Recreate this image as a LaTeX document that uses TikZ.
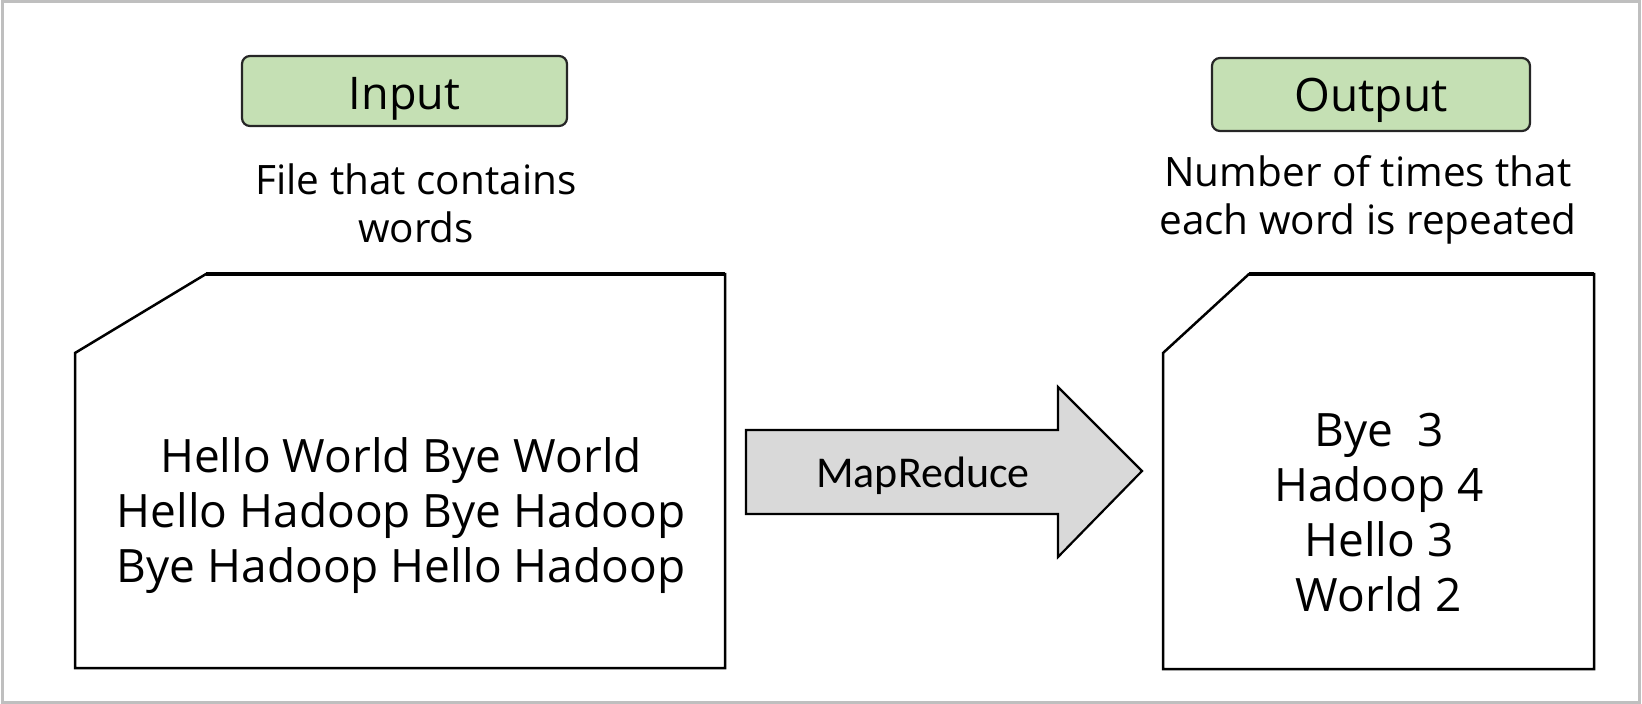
\documentclass[tikz,border=0pt]{standalone}
\usepackage{fontspec}
\setmainfont{Open Sans}
\newfontfamily\arrowfont{Carlito}
\definecolor{boxgreen}{HTML}{C5E0B4}
\definecolor{arrowgray}{HTML}{D9D9D9}
\definecolor{framegray}{HTML}{BFBFBF}
\tikzset{
  titlebox/.style={draw=black!85, line width=2.2pt, fill=boxgreen, rounded corners=8pt, inner sep=0pt},
  doc/.style={draw=black, line width=2.5pt, fill=white, line join=miter},
  caption/.style={align=center, font=\fontsize{40.5}{48}\selectfont},
  bigtext/.style={align=center, font=\fontsize{46}{55}\selectfont},
}
\begin{document}
\begin{tikzpicture}[x=1pt,y=-1pt]
\useasboundingbox (0,0) rectangle (1642,704);
\draw[framegray, line width=3pt] (2.5,1.5) rectangle (1639.5,702.5);
% title boxes
\node[titlebox, minimum width=325pt, minimum height=70pt] (inbox) at (404.5,91) {};
\node[font=\fontsize{45}{50}\selectfont] (inlabel) at (404.5,99) {Input};
\node[titlebox, minimum width=318pt, minimum height=73pt] (outbox) at (1371,94.5) {};
\node[font=\fontsize{46}{50}\selectfont] (outlabel) at (1371,100) {Output};
% captions
\node[caption] (incap) at (416,203) {File that contains\\words};
\node[caption] (outcap) at (1368,200) {Number of times that\\each word is repeated};
% documents
\draw[doc] (75,668) -- (75,353) -- (206,274) -- (725,274) -- (725,668) -- cycle;
\draw[black, line width=3.5pt] (206,274) -- (725,274);
\draw[doc] (1163,669) -- (1163,353) -- (1249,274) -- (1594,274) -- (1594,669) -- cycle;
\draw[black, line width=3.5pt] (1249,274) -- (1594,274);
\node[bigtext] (intext) at (401,516) {Hello World Bye World\\Hello Hadoop Bye Hadoop\\Bye Hadoop Hello Hadoop};
\node[bigtext] (outtext) at (1379,513) {Bye\ \ 3\\Hadoop 4\\Hello 3\\World 2};
% arrow
\draw[line width=2.2pt, fill=arrowgray, line join=miter] (746,430) -- (1058,430) -- (1058,387) -- (1142,471) -- (1058,557) -- (1058,514) -- (746,514) -- cycle;
\node[font=\arrowfont\fontsize{44}{48}\selectfont] (mr) at (923,476) {MapReduce};
\end{tikzpicture}
\end{document}
